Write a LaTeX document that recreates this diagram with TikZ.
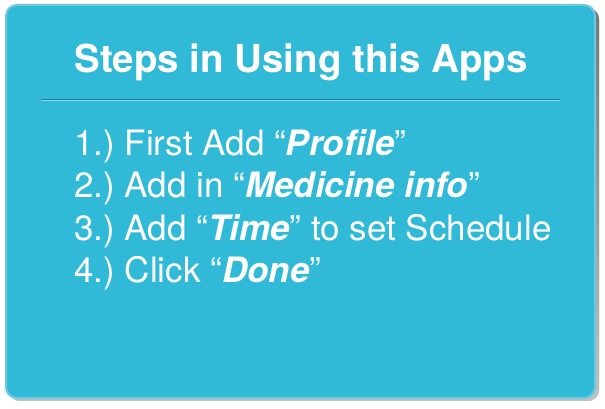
\documentclass[tikz,border=0pt]{standalone}
\usepackage{fontspec}
\setmainfont{TeX Gyre Heros}
\usepackage{tikz}
\frenchspacing
\definecolor{boxblue}{RGB}{49,186,216}
\definecolor{boxrim}{RGB}{110,200,222}
\definecolor{ruleblue}{RGB}{30,130,155}
\definecolor{rulelight}{RGB}{150,215,232}
\definecolor{shade}{RGB}{190,190,190}
\begin{document}
\begin{tikzpicture}[x=1pt,y=1pt]
\useasboundingbox (0,0) rectangle (605,409);
% shadow and box
\fill[shade,opacity=.6,rounded corners=11pt] (9,8) rectangle (599,401);
\draw[boxrim,fill=boxblue,line width=2pt,rounded corners=11pt] (6,11) rectangle (595,404);
% title
\node[anchor=base,text=white,font=\fontsize{38.5}{42}\selectfont\bfseries] (title) at (301,336) {Steps in Using this Apps};
\coordinate (ruleleft) at (41,309.5);
\coordinate (ruleright) at (560,309.5);
\draw[ruleblue,line width=1pt] (ruleleft) -- (ruleright);
\draw[rulelight,line width=.7pt] ([yshift=-1.2pt]ruleleft) -- ([yshift=-1.2pt]ruleright);
% steps
\node[anchor=base west,inner sep=0pt,text=white,font=\fontsize{35}{40}\selectfont] (one) at (74,253) {1.) First Add ``\textbf{\textit{Profile}}''};
\node[anchor=base west,inner sep=0pt,text=white,font=\fontsize{35}{40}\selectfont] (two) at (74,211) {2.) Add in ``\textbf{\textit{Medicine info}}''};
\node[anchor=base west,inner sep=0pt,text=white,font=\fontsize{35}{40}\selectfont] (three) at (74,168) {3.) Add ``\textbf{\textit{Time}}'' to set Schedule};
\node[anchor=base west,inner sep=0pt,text=white,font=\fontsize{35}{40}\selectfont] (four) at (74,126) {4.) Click ``\textbf{\textit{Done}}''};
\end{tikzpicture}
\end{document}
